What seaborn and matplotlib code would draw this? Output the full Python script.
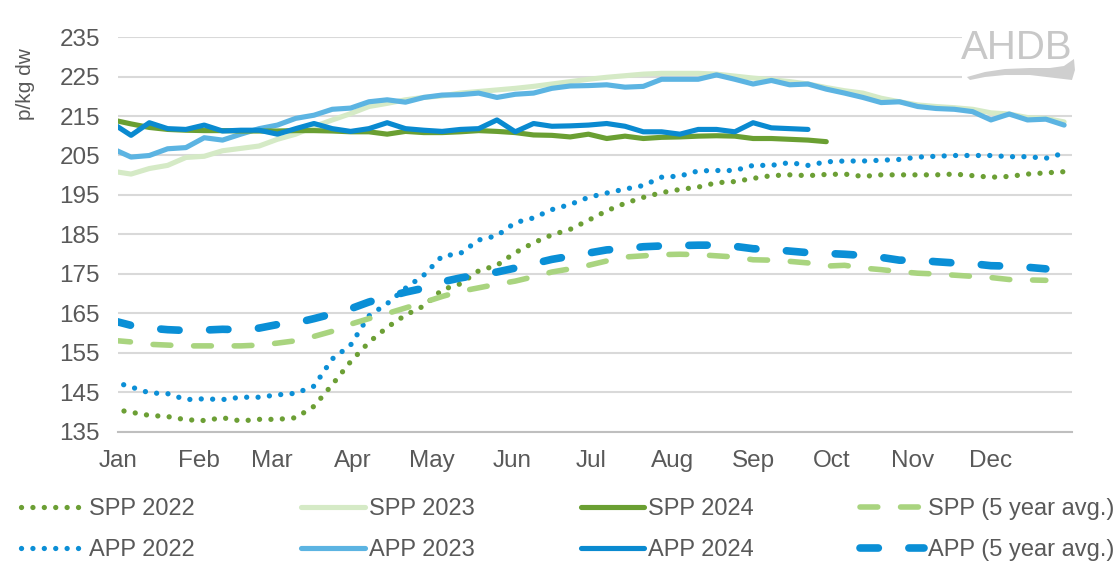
import numpy as np
import pandas as pd
import seaborn as sns
import matplotlib.pyplot as plt
import matplotlib.dates as mdates
from matplotlib.patches import Rectangle, Polygon

# weekly price points (p/kg dw), plotted on a common Jan-Dec axis
weeks = pd.date_range("2022-12-30", periods=53, freq="7D")
months = pd.date_range("2023-01-01", periods=12, freq="MS")

spp_2022 = [140.8, 140.0, 139.2, 138.9, 138.1, 137.9, 138.6, 137.8, 138.2, 138.2,
            138.6, 141.5, 147.0, 152.8, 157.7, 161.5, 164.6, 166.9, 171.0, 172.5,
            175.8, 177.2, 180.4, 182.9, 184.9, 186.3, 188.6, 191.0, 192.9, 194.4,
            195.6, 196.4, 197.0, 198.1, 198.4, 199.2, 199.9, 200.1, 199.9, 200.2,
            200.3, 199.7, 200.1, 200.1, 200.1, 200.1, 200.3, 199.9, 199.5, 199.7,
            200.3, 200.6, 200.9]
spp_2023 = [201.0, 200.3, 201.7, 202.5, 204.5, 204.8, 206.2, 206.8, 207.4, 209.1,
            210.4, 212.3, 214.0, 215.6, 217.4, 218.2, 219.1, 219.7, 220.1, 220.8,
            221.2, 221.6, 222.0, 222.5, 223.1, 223.7, 224.3, 224.8, 225.2, 225.6,
            225.8, 225.8, 225.8, 225.6, 225.1, 224.6, 224.2, 223.7, 223.1, 222.2,
            221.4, 220.8, 219.5, 218.6, 217.8, 217.4, 217.1, 216.7, 215.8, 215.5,
            214.6, 214.4, 213.5]
spp_2024 = [214.0, 213.0, 212.1, 211.6, 211.4, 211.3, 211.3, 211.2, 211.2, 211.2,
            211.3, 211.3, 211.2, 211.0, 211.0, 210.4, 211.1, 210.8, 210.8, 211.0,
            211.3, 211.1, 210.8, 210.2, 210.1, 209.7, 210.4, 209.3, 209.9, 209.3,
            209.6, 209.7, 209.9, 210.0, 209.9, 209.3, 209.3, 209.1, 208.9, 208.5]
spp_5yr = [158.2, 157.8, 157.2, 157.0, 156.8, 156.8, 156.8, 156.8, 157.0, 157.5,
           158.1, 159.2, 160.5, 162.3, 163.7, 165.0, 166.4, 167.8, 169.3, 170.6,
           171.5, 172.4, 173.2, 174.3, 175.5, 176.3, 177.2, 178.3, 179.3, 179.6,
           179.9, 180.0, 179.9, 179.6, 179.3, 178.6, 178.5, 178.2, 177.8, 177.0,
           177.2, 176.5, 176.1, 175.6, 175.2, 175.0, 174.7, 174.4, 174.1, 173.6,
           173.5, 173.4]

app_2022 = [147.8, 146.4, 144.9, 144.7, 143.2, 143.4, 143.2, 143.8, 143.8, 144.4,
            144.8, 146.6, 153.5, 157.0, 164.4, 167.5, 171.4, 174.7, 179.5, 180.2,
            183.6, 184.7, 188.0, 189.2, 191.3, 192.6, 194.4, 195.5, 196.5, 197.4,
            199.5, 199.8, 201.1, 201.2, 201.2, 202.5, 202.5, 203.2, 202.5, 203.4,
            203.6, 203.6, 203.8, 204.0, 204.6, 204.8, 205.0, 205.0, 205.0, 204.7,
            204.7, 204.3, 205.6]
app_2023 = [206.7, 204.6, 205.0, 206.7, 207.0, 209.5, 208.9, 210.4, 211.8, 212.7,
            214.4, 215.2, 216.7, 217.0, 218.6, 219.1, 218.5, 219.7, 220.3, 220.4,
            220.8, 219.7, 220.5, 220.8, 222.0, 222.6, 222.7, 222.9, 222.3, 222.5,
            224.3, 224.3, 224.3, 225.4, 224.3, 223.1, 224.0, 222.9, 223.1, 221.8,
            220.8, 219.7, 218.4, 218.6, 217.4, 216.9, 216.7, 216.1, 214.0, 215.5,
            214.0, 214.2, 212.7]
app_2024 = [213.1, 210.1, 213.3, 211.8, 211.6, 212.7, 211.2, 211.4, 211.4, 210.4,
            211.8, 213.1, 211.8, 211.1, 211.8, 213.3, 211.8, 211.4, 211.1, 211.6,
            211.8, 214.0, 211.0, 213.1, 212.4, 212.5, 212.7, 213.1, 212.4, 211.0,
            211.0, 210.4, 211.6, 211.6, 211.0, 213.3, 212.0, 211.8, 211.6]
app_5yr = [163.2, 162.0, 161.3, 160.9, 160.7, 160.8, 161.0, 160.9, 161.3, 162.2,
           162.6, 163.7, 164.9, 166.2, 167.9, 169.2, 170.4, 171.4, 173.0, 174.0,
           174.8, 175.5, 176.5, 177.6, 178.7, 179.5, 180.3, 181.1, 181.4, 181.9,
           182.1, 182.2, 182.3, 182.3, 182.0, 181.4, 181.2, 180.8, 180.4, 180.2,
           180.0, 179.7, 179.2, 178.5, 178.5, 178.1, 177.8, 177.6, 177.1, 177.0,
           176.7, 176.3]

sns.set_style("white")
plt.rcParams['font.family'] = ['Liberation Sans', 'DejaVu Sans']
txt = "#595959"

fig = plt.figure(figsize=(11.15, 5.8), dpi=100)
ax = fig.add_axes([0.1058, 0.2552, 0.8556, 0.681])

series = [
    ("SPP 2022", spp_2022, "#6c9f35", 3.8, (0, (0.01, 2.15))),
    ("APP 2022", app_2022, "#0c8fd6", 3.8, (0, (0.01, 2.15))),
    ("SPP 2023", spp_2023, "#d5eac6", 3.7, "-"),
    ("APP 2023", app_2023, "#5cb4e2", 3.7, "-"),
    ("SPP 2024", spp_2024, "#6a9f32", 3.7, "-"),
    ("APP 2024", app_2024, "#0a8ad0", 3.7, "-"),
    ("SPP (5 year avg.)", spp_5yr, "#a9d47f", 4.0, (0, (3.2, 4.1))),
    ("APP (5 year avg.)", app_5yr, "#0a8fd6", 5.5, (0, (2.4, 4.0))),
]
zorder = {"SPP 2023": 2, "APP 2023": 3, "SPP 2024": 4, "APP 2024": 5}

handles = {}
for name, vals, col, lw, ls in series:
    sns.lineplot(x=weeks[:len(vals)], y=vals, ax=ax, color=col, linewidth=lw,
                 linestyle=ls, solid_capstyle="round", dash_capstyle="round",
                 solid_joinstyle="round", label=name, zorder=zorder.get(name, 6))
    handles[name] = ax.get_lines()[-1]
ax.get_legend().remove()

ax.set_xlim(pd.Timestamp("2023-01-01"), pd.Timestamp("2024-01-01"))
ax.set_ylim(135, 235)
ax.set_yticks(np.arange(135, 236, 10))
ax.set_xticks(months)
ax.xaxis.set_major_formatter(mdates.DateFormatter("%b"))
ax.grid(axis="y", color="#d9d9d9", linewidth=1.5, zorder=0)
ax.set_axisbelow(True)
for s in ["top", "right", "left"]:
    ax.spines[s].set_visible(False)
ax.spines["bottom"].set_color("#bfbfbf")
ax.spines["bottom"].set_linewidth(1.5)
ax.tick_params(axis="x", length=5, width=1.5, color="#bfbfbf", direction="out",
               pad=8, labelsize=17.5, labelcolor=txt)
ax.tick_params(axis="y", length=0, pad=13, labelsize=17.5, labelcolor=txt)
ax.set_xlabel("")
ax.set_ylabel("p/kg dw", fontsize=15, color=txt)
ax.yaxis.set_label_coords(-0.087, 0.88)

# logo block (white backing hides the grid behind it)
to_ax = lambda px, py: ((px - 118) / 954, (432 - py) / 395)
x0, y0 = to_ax(962, 86)
x1, y1 = to_ax(1080, 22)
ax.add_patch(Rectangle((x0, y0), x1 - x0, y1 - y0, transform=ax.transAxes,
                       facecolor="white", edgecolor="none", zorder=1.5, clip_on=False))
ax.text(to_ax(1073, 0)[0], to_ax(0, 29)[1], "AHDB", transform=ax.transAxes,
        ha="right", va="top", fontsize=29, color="#c8c8c8", zorder=1.6)
swoosh = [to_ax(px, py) for px, py in
          [(967, 77), (985, 72), (1005, 69), (1030, 68), (1050, 68), (1064, 66),
           (1074, 59), (1075, 70), (1072, 80), (1055, 78), (1030, 75), (1005, 75),
           (985, 77), (970, 80)]]
ax.add_patch(Polygon(swoosh, closed=True, transform=ax.transAxes,
                     facecolor="#cfcfcf", edgecolor="none", zorder=1.6, clip_on=False))

order = ["SPP 2022", "APP 2022", "SPP 2023", "APP 2023",
         "SPP 2024", "APP 2024", "SPP (5 year avg.)", "APP (5 year avg.)"]
fig.legend([handles[n] for n in order], order, ncol=4, loc="upper left",
           bbox_to_anchor=(21 / 1115, 1 - 498 / 580), frameon=False,
           fontsize=17, labelcolor=txt, handlelength=2.7, handletextpad=0.17,
           columnspacing=4.5, labelspacing=0.8, borderpad=0, borderaxespad=0)

fig.savefig("out.png", dpi=100)
